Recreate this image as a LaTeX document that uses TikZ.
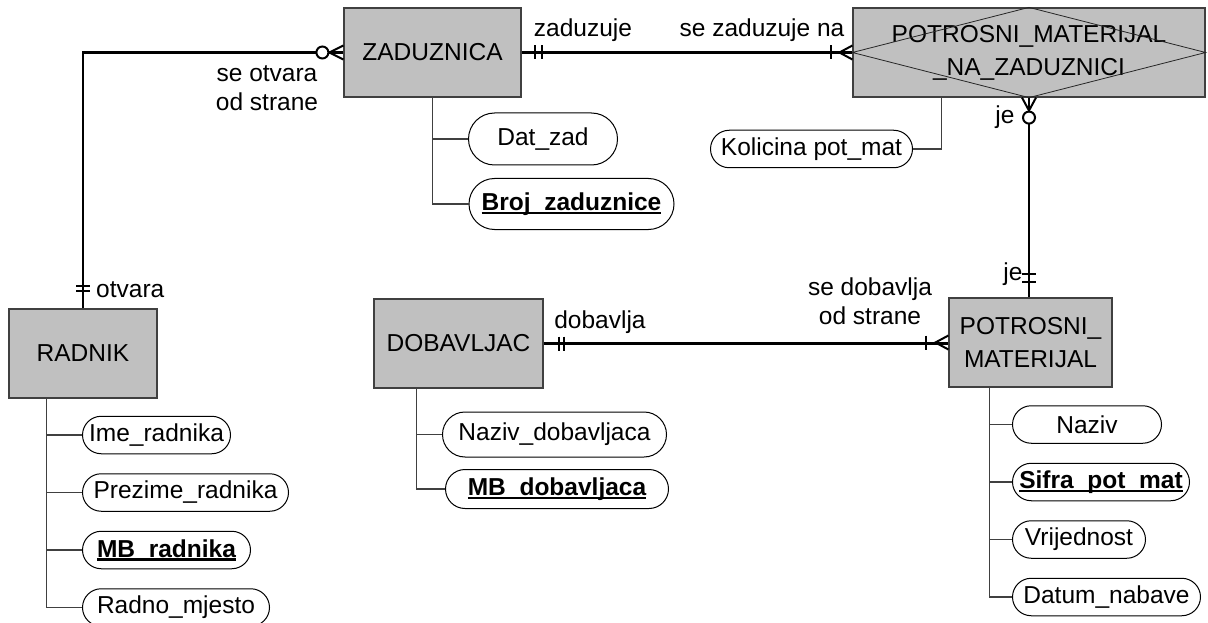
\documentclass[tikz,border=0pt]{standalone}
\usepackage{fontspec}
\setmainfont{Liberation Sans}
\usepackage{tikz}
\usetikzlibrary{positioning, calc, shapes.misc}
\definecolor{entgray}{RGB}{192,192,192}
\definecolor{edgegray}{RGB}{64,64,64}
\newcommand\keyline[1]{\setbox0\hbox{#1}\rlap{\rule[-3.5pt]{\wd0}{2.2pt}}\box0}
\tikzset{every node/.append style={align=center}}
\tikzset{
  ent/.style={rectangle, draw=edgegray, fill=entgray, line width=1.2pt,
    minimum width=177pt, minimum height=89pt, inner sep=0pt,
    font=\fontsize{24.5}{33}\selectfont},
  attr/.style={rounded rectangle, draw=black, line width=1pt, minimum height=37.5pt,
    inner sep=0pt, font=\fontsize{24.5}{30}\selectfont},
  pk/.style={attr, font=\fontsize{24.5}{30}\selectfont\bfseries},
  rel/.style={line width=2.4pt, black},
  card/.style={line width=2pt, black},
  opt/.style={card, fill=white},
  lnk/.style={line width=1.2pt, edgegray},
  lbl/.style={font=\fontsize{24.5}{29}\selectfont, inner sep=0pt}
}

\begin{document}
\begin{tikzpicture}[x=1pt, y=-1pt]
  \useasboundingbox (0,0) rectangle (1208,623);
  \node[ent] (zad) at (432.5,52.5) {ZADUZNICA};
  \node[ent, minimum width=352pt] (pmz) at (1029,52.5) {POTROSNI\_MATERIJAL\\\_NA\_ZADUZNICI};
  \node[ent, minimum width=148pt] (rad) at (83,353.5) {RADNIK};
  \node[ent, minimum width=169pt] (dob) at (458.5,343.5) {DOBAVLJAC};
  \node[ent, minimum width=163pt] (pot) at (1030.5,342.5) {POTROSNI\_\\MATERIJAL};
  \draw[black!85, line width=0.8pt] (pmz.west) -- (pmz.north) -- (pmz.east) -- (pmz.south) -- cycle;

  \node[attr, minimum width=149pt, minimum height=52pt, anchor=west] (datz) at (468,139) {Dat\_zad};
  \node[pk, minimum width=205pt, minimum height=51pt, below=12.5pt of datz.south west, anchor=north west] (broj) {\keyline{Broj\_zaduznice}};
  \node[attr, minimum width=202pt, anchor=east] (kol) at (913,149) {Kolicina pot\_mat};

  \node[attr, minimum width=148pt, anchor=west] (ime) at (82,435) {Ime\_radnika};
  \node[attr, minimum width=206pt, below=19pt of ime.south west, anchor=north west] (prez) {Prezime\_radnika};
  \node[pk, minimum width=168pt, below=19pt of prez.south west, anchor=north west] (mbr) {\keyline{MB\_radnika}};
  \node[attr, minimum width=187pt, below=19pt of mbr.south west, anchor=north west] (rmj) {Radno\_mjesto};

  \node[attr, minimum width=224pt, minimum height=45pt, anchor=west] (nazd) at (442,434.5) {Naziv\_dobavljaca};
  \node[pk, minimum width=223pt, minimum height=39pt, below=11.5pt of nazd.south west, anchor=north west] (mbd) {\keyline{MB\_dobavljaca}};

  \node[attr, minimum width=149pt, anchor=west] (naz) at (1012,424.5) {Naziv};
  \node[pk, minimum width=177pt, below=19pt of naz.south west, anchor=north west] (sif) {\keyline{Sifra\_pot\_mat}};
  \node[attr, minimum width=133pt, below=19pt of sif.south west, anchor=north west] (vri) {Vrijednost};
  \node[attr, minimum width=188pt, below=19pt of vri.south west, anchor=north west] (dat) {Datum\_nabave};

  \draw[lnk] (zad.south) |- (datz.west);
  \draw[lnk] (zad.south) |- (broj.west);
  \draw[lnk] ($(pmz.south west)+(89,0)$) |- (kol.east);
  \foreach \a in {ime, prez, mbr, rmj}
    \draw[lnk] ($(rad.south west)+(38,0)$) |- (\a.west);
  \foreach \a in {nazd, mbd}
    \draw[lnk] ($(dob.south west)+(43,0)$) |- (\a.west);
  \foreach \a in {naz, sif, vri, dat}
    \draw[lnk] ($(pot.south west)+(41,0)$) |- (\a.west);

  \draw[rel] (rad.north) |- (zad.west);
  \draw[rel] (zad.east) -- (pmz.west);
  \draw[rel] (pmz.south) -- (pmz.south |- pot.north);
  \draw[rel] (dob.east) -- (dob.east -| pot.west);

  \draw[card] ($(rad.north)+(-7,-22)$) -- +(14,0) ($(rad.north)+(-7,-17)$) -- +(14,0);
  \draw[card] ($(zad.west)+(0,-7)$) -- ($(zad.west)+(-14,0)$) -- ($(zad.west)+(0,7)$);
  \draw[opt] ($(zad.west)+(-21,0)$) circle (6);
  \draw[card] ($(zad.east)+(13,-7)$) -- +(0,14) ($(zad.east)+(20,-7)$) -- +(0,14);
  \draw[card] ($(pmz.west)+(-21,-7)$) -- +(0,14);
  \draw[card] ($(pmz.west)+(0,-7)$) -- ($(pmz.west)+(-13,0)$) -- ($(pmz.west)+(0,7)$);
  \draw[card] ($(pmz.south)+(-7,0)$) -- ($(pmz.south)+(0,13)$) -- ($(pmz.south)+(7,0)$);
  \draw[opt] ($(pmz.south)+(0,20)$) circle (6);
  \draw[card] ($(pot.north)+(-8.5,-23)$) -- +(14,0) ($(pot.north)+(-8.5,-15)$) -- +(14,0);
  \draw[card] ($(dob.east)+(15,-7)$) -- +(0,14) ($(dob.east)+(20,-7)$) -- +(0,14);
  \draw[card] ($(pot.west)+(-22,-7)$) -- +(0,14);
  \draw[card] ($(pot.west)+(0,-7)$) -- ($(pot.west)+(-13,0)$) -- ($(pot.west)+(0,7)$);

  \node[lbl] (lotv) at (267,88) {se otvara\\od strane};
  \node[lbl, anchor=west] (lotr) at (96,290) {otvara};
  \node[lbl] (lzad) at (583,30) {zaduzuje};
  \node[lbl] (lsez) at (762,30) {se zaduzuje na};
  \node[lbl] (lje1) at (1005,117) {je};
  \node[lbl] (lje2) at (1013,274) {je};
  \node[lbl] (ldob) at (600,322) {dobavlja};
  \node[lbl] (lsed) at (870,301) {se dobavlja\\od strane};
\end{tikzpicture}
\end{document}
